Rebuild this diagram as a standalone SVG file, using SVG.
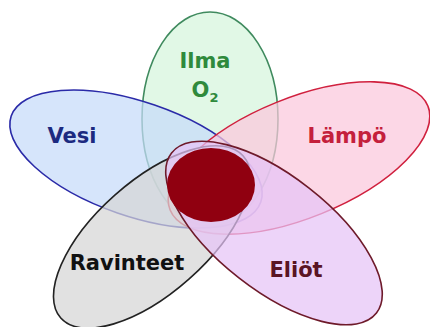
<svg xmlns="http://www.w3.org/2000/svg" width="430" height="327" viewBox="0 0 430 327">
<style>
.p{stroke-width:1.6;fill-opacity:0.72}
.t{font-family:"DejaVu Sans",Verdana,sans-serif;font-weight:bold;font-size:21px;text-anchor:middle}
</style>
<rect width="430" height="327" fill="#ffffff"/>
<g id="ilma"><ellipse class="p" cx="210" cy="119" rx="68" ry="107" fill="#d6f5dd" stroke="#3f8a5e"/></g>
<g id="vesi"><ellipse class="p" cx="136" cy="159" rx="132" ry="57" transform="rotate(19 136 159)" fill="#c6dbfa" stroke="#2a2aa8"/></g>
<g id="lampo"><ellipse class="p" cx="299" cy="158" rx="139" ry="60" transform="rotate(-22 299 158)" fill="#fbc8dc" stroke="#d0203e"/></g>
<g id="ravinteet"><ellipse class="p" cx="152" cy="237" rx="122" ry="56" transform="rotate(-41.6 152 237)" fill="#d6d6d6" stroke="#222222"/></g>
<g id="eliot"><ellipse class="p" cx="274" cy="233" rx="130" ry="57" transform="rotate(38 274 233)" fill="#e6c4f6" stroke="#6e1a2a"/></g>
<g id="center"><ellipse cx="211" cy="185" rx="44" ry="37" fill="#900010"/></g>
<g id="labels">
<text class="t" x="72" y="143" fill="#1c2a80">Vesi</text>
<text class="t" x="205" y="68" fill="#2f8a3c">Ilma</text>
<text class="t" x="205" y="97" fill="#2f8a3c">O<tspan font-size="13" dy="5">2</tspan></text>
<text class="t" x="347" y="143" fill="#c4203c">Lämpö</text>
<text class="t" x="127" y="270" fill="#111111">Ravinteet</text>
<text class="t" x="296" y="277" fill="#5a1424">Eliöt</text>
</g>
</svg>
